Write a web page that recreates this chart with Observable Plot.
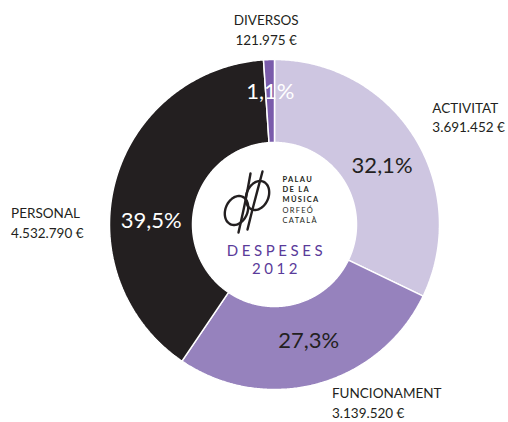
<!DOCTYPE html>
<html><head><meta charset="utf-8">
<script src="https://cdn.jsdelivr.net/npm/d3@7"></script>
<script src="https://cdn.jsdelivr.net/npm/@observablehq/plot@0.6"></script>
<style>body{margin:0;background:#fff;} svg{display:block}</style>
</head><body><div id="chart"></div>
<script>
// ---- data ----
const categories = ["ACTIVITAT", "FUNCIONAMENT", "PERSONAL", "DIVERSOS"];
const amounts = [3691452, 3139520, 4532790, 121975];
const amountLabels = ["3.691.452 €", "3.139.520 €", "4.532.790 €", "121.975 €"];
const percentLabels = ["32,1%", "27,3%", "39,5%", "1,1%"];
const sliceColors = ["#cec6e1", "#9682bd", "#231f20", "#7a5cab"];
const percentColors = ["#231f20", "#231f20", "#ffffff", "#ffffff"];
const centerTitle = ["DESPESES", "2012"];
const logoText = ["PALAU", "DE LA", "MÚSICA", "ORFEÓ", "CATALÀ"];

// ---- geometry ----
const W = 508, H = 422, CX = 274, CY = 224, R0 = 82, R1 = 165;
const data = categories.map((c, i) => ({name: c, amount: amounts[i], amountLabel: amountLabels[i], pct: percentLabels[i], pctColor: percentColors[i]}));
const arcs = d3.pie().sort(null).value(d => d.amount)(data);

const polar = (r, a) => [r * Math.sin(a), r * Math.cos(a)];
const pts = [];
for (const a of arcs) {
  const n = Math.max(2, Math.ceil((a.endAngle - a.startAngle) / (Math.PI / 360)));
  const ring = [];
  for (let k = 0; k <= n; k++) ring.push(polar(R1, a.startAngle + (a.endAngle - a.startAngle) * k / n));
  for (let k = n; k >= 0; k--) ring.push(polar(R0, a.startAngle + (a.endAngle - a.startAngle) * k / n));
  ring.push(ring[0]);
  for (const [x, y] of ring) pts.push({x, y, name: a.data.name});
}
const mid = a => (a.startAngle + a.endAngle) / 2;

// per-slice label nudges (pixels)
const pctNudge = {ACTIVITAT: [3, 7], FUNCIONAMENT: [2, -3], PERSONAL: [-4, 29], DIVERSOS: [0, -9]};
const outNudge = {ACTIVITAT: [-3, -7, "start"], FUNCIONAMENT: [8, -6, "start"], PERSONAL: [-80, 47, "start"], DIVERSOS: [-2, -6, "middle"]};

const marks = [
  Plot.line(pts, {x: "x", y: "y", z: "name", fill: "name", stroke: "#fff", strokeWidth: 1.5, strokeLinejoin: "miter"})
];
for (const a of arcs) {
  const [px, py] = polar((R0 + R1) / 2, mid(a));
  const [dx, dy] = pctNudge[a.data.name];
  marks.push(Plot.text([a.data], {x: () => px, y: () => py, text: "pct", fill: "pctColor", fontSize: 22, fontWeight: 400, dx, dy}));
  const [ox, oy] = polar(190, mid(a));
  const [ddx, ddy, anchor] = outNudge[a.data.name];
  marks.push(Plot.text([a.data], {x: () => ox, y: () => oy, text: d => d.name + "\n" + d.amountLabel, fill: "#231f20", fontSize: 13.5, lineHeight: 1.45, textAnchor: anchor, dx: ddx, dy: ddy}));
}
// centre title
marks.push(Plot.text([centerTitle[0]], {x: () => 0, y: () => 0, text: d => d, fill: "#5a3b9a", fontSize: 15, fontWeight: 400, dx: 2, dy: 27}));
marks.push(Plot.text([centerTitle[1]], {x: () => 0, y: () => 0, text: d => d, fill: "#5a3b9a", fontSize: 15, fontWeight: 400, dx: 2, dy: 45}));
// logo wordmark
logoText.forEach((t, i) => {
  marks.push(Plot.text([t], {x: () => 0, y: () => 0, text: d => d, fill: "#231f20", fontSize: 7.5, fontWeight: i < 3 ? 700 : 400, textAnchor: "start", dx: 8, dy: -45 + i * 10.2}));
});
// logo emblem (decorative loops)
function ellipse(cx, cy, rx, ry, rot, id) {
  const out = [];
  for (let k = 0; k <= 72; k++) {
    const t = k / 72 * 2 * Math.PI;
    const ex = rx * Math.cos(t), ey = ry * Math.sin(t);
    const c = Math.cos(rot), s = Math.sin(rot);
    out.push({x: (cx + ex * c - ey * s) - CX, y: CY - (cy + ex * s + ey * c), id});
  }
  return out;
}
const emblem = [
  ...ellipse(236, 210, 11, 15, 0.4, "a"),
  ...ellipse(257, 195, 11, 15, 0.4, "b"),
  {x: 250 - CX, y: CY - 173, id: "c"}, {x: 245 - CX, y: CY - 200, id: "c"}, {x: 238 - CX, y: CY - 232, id: "c"},
  {x: 262 - CX, y: CY - 171, id: "d"}, {x: 253 - CX, y: CY - 205, id: "d"}, {x: 247 - CX, y: CY - 229, id: "d"}
];
marks.push(Plot.line(emblem, {x: "x", y: "y", z: "id", stroke: "#231f20", strokeWidth: 2.4, curve: "catmull-rom"}));

const chart = Plot.plot({
  width: W, height: H,
  margin: 0,
  x: {domain: [-CX, W - CX], axis: null},
  y: {domain: [CY - H, CY], axis: null},
  color: {domain: categories, range: sliceColors},
  style: {fontFamily: "Lato, 'Open Sans', sans-serif", background: "#fff"},
  marks
});
d3.select(chart).selectAll("text").filter(function () { return centerTitle.includes(this.textContent); })
  .style("letter-spacing", "3.6px");
d3.select(chart).selectAll("text").filter(function () { return logoText.includes(this.textContent); })
  .style("letter-spacing", "1.3px");
document.getElementById("chart").append(chart);
</script>
</body></html>
